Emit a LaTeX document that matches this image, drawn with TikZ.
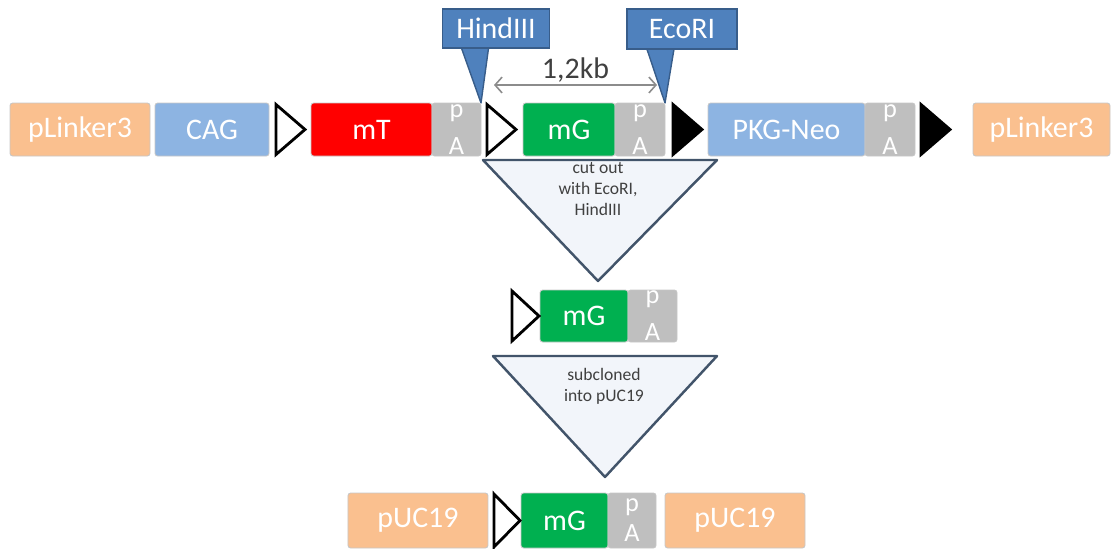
\documentclass[tikz,border=0pt]{standalone}
\usepackage{fontspec}
\setmainfont{Carlito}
\usepackage{xcolor}
\usepackage{tikz}
\usetikzlibrary{shapes.geometric, arrows.meta, positioning, calc, backgrounds}

\definecolor{linkerorange}{RGB}{250,192,143}
\definecolor{promblue}{RGB}{141,180,226}
\definecolor{mtred}{RGB}{255,0,0}
\definecolor{mggreen}{RGB}{0,176,80}
\definecolor{pagray}{RGB}{191,191,191}
\definecolor{sitefill}{RGB}{79,129,189}
\definecolor{siteedge}{RGB}{56,93,138}
\definecolor{stepedge}{RGB}{66,84,106}
\definecolor{stepfill}{RGB}{242,245,250}
\definecolor{labelgray}{RGB}{64,64,64}

\begin{document}
\begin{tikzpicture}[
    font=\fontsize{17}{19}\selectfont,
    gene/.style={draw=black!22, line width=0.5pt, rounded corners=1.5pt, text=white, minimum height=1.06cm, inner sep=0pt, outer sep=0pt},
    polya/.style={gene, fill=pagray, minimum width=1cm, align=center, font=\fontsize{15}{21}\selectfont},
    loxp/.style={isosceles triangle, isosceles triangle stretches, draw=black, line width=1.6pt, fill=white, inner sep=0pt, outer sep=0pt, minimum height=0.58cm, minimum width=1.0cm},
    loxpfull/.style={loxp, fill=black},
    site/.style={draw=siteedge, line width=0.8pt, fill=sitefill, text=white, minimum width=2.14cm, minimum height=0.78cm, inner sep=0pt},
    pointer/.style={draw=siteedge, line width=0.8pt, fill=sitefill, line join=round},
    kbarrow/.style={draw=black!45, line width=0.9pt, {Straight Barb[length=4pt,width=9pt]}-{Straight Barb[length=4pt,width=9pt]}},
    steptri/.style={draw=stepedge, line width=1.4pt, fill=stepfill, line join=round},
    steptext/.style={font=\fontsize{10}{12}\selectfont, text=labelgray, align=center, inner sep=0pt, anchor=north}
]
    \useasboundingbox (0,0) rectangle (22.3,-10.96);
    \clip (0,0) rectangle (22.3,-10.96);

    \node[gene, fill=linkerorange, minimum width=2.8cm] (link1) at (1.6,-2.59) {pLinker3};
    \node[gene, fill=promblue, minimum width=2.28cm, right=0.1cm of link1] (cag) {CAG};
    \node[loxp, right=0.14cm of cag] (lox1) {};
    \node[gene, fill=mtred, minimum width=2.42cm, right=0.12cm of lox1] (mt) {mT};
    \node[polya, minimum width=0.98cm, right=0cm of mt] (pa1) {p\\A};
    \node[loxp, right=0.12cm of pa1] (lox2) {};
    \node[gene, fill=mggreen, minimum width=1.84cm, right=0.14cm of lox2] (mg1) {mG};
    \node[polya, right=0cm of mg1] (pa2) {p\\A};
    \node[loxpfull, right=0.16cm of pa2] (lox3) {};
    \node[gene, fill=promblue, minimum width=3.14cm, right=0.12cm of lox3] (neo) {PKG-Neo};
    \node[polya, right=0cm of neo] (pa3) {p\\A};
    \node[loxpfull, right=0.12cm of pa3] (lox4) {};
    \node[gene, fill=linkerorange, minimum width=2.74cm, right=0.46cm of lox4] (link2) {pLinker3};

    \node[site] (hind) at (9.92,-0.57) {HindIII};
    \node[site, minimum width=2.2cm, minimum height=0.8cm] (eco) at (13.64,-0.58) {EcoRI};
    \begin{scope}[on background layer]
        \draw[pointer] ($(hind.south west)+(0.38,0.05)$) -- (pa1.north east) -- ($(hind.south west)+(0.94,0.05)$);
        \draw[pointer] ($(eco.south west)+(0.4,0.05)$) -- (pa2.north east) -- ($(eco.south west)+(0.96,0.05)$);
    \end{scope}

    \coordinate (kbleft) at ($(pa1.north east)+(0.26,0.36)$);
    \coordinate (kbright) at ($(pa2.north east)+(-0.16,0.36)$);
    \draw[kbarrow] (kbleft) -- node[anchor=south, inner sep=1pt, text=labelgray] (kb) {1,2kb} (kbright);

    \draw[steptri] (9.66,-3.2) -- (14.34,-3.2) -- (11.96,-5.62) -- cycle;
    \node[steptext] (cuttext) at (11.96,-3.24) {cut out\\with EcoRI,\\HindIII};

    \node[gene, fill=mggreen, minimum width=1.76cm, minimum height=1.04cm] (mg2) at (11.68,-6.32) {mG};
    \node[polya, minimum width=0.98cm, minimum height=1.04cm, right=0cm of mg2] (pa4) {p\\A};
    \node[loxp, minimum height=0.54cm, left=0.02cm of mg2] (lox5) {};

    \draw[steptri] (9.86,-7.12) -- (14.34,-7.12) -- (12.1,-9.54) -- cycle;
    \node[steptext] (subtext) at (12.08,-7.36) {subcloned\\into pUC19};

    \node[gene, fill=mggreen, minimum width=1.74cm, minimum height=1.1cm] (mg3) at (11.29,-10.41) {mG};
    \node[polya, minimum width=0.96cm, minimum height=1.1cm, font=\fontsize{15}{17}\selectfont, right=0cm of mg3] (pa5) {p\\A};
    \node[loxp, minimum height=0.52cm, minimum width=1.06cm, left=0.02cm of mg3] (lox6) {};
    \node[gene, fill=linkerorange, minimum width=2.8cm, minimum height=1.1cm, left=0.12cm of lox6] (puc1) {pUC19};
    \node[gene, fill=linkerorange, minimum width=2.8cm, minimum height=1.1cm, right=0.18cm of pa5] (puc2) {pUC19};
\end{tikzpicture}
\end{document}
